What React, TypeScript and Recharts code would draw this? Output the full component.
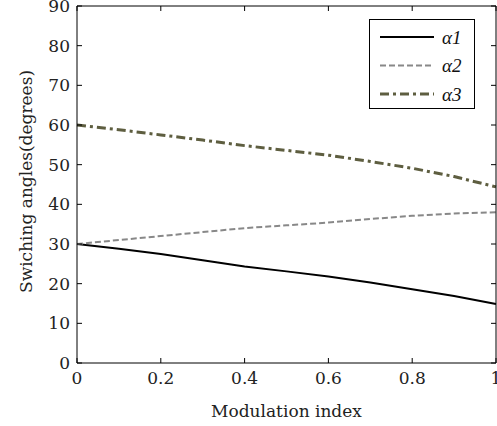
import { LineChart, Line, XAxis, YAxis, Legend } from 'recharts';

const modIndex = [0, 0.1, 0.2, 0.3, 0.4, 0.5, 0.6, 0.7, 0.8, 0.9, 1];
const alpha1 = [30, 28.8, 27.5, 25.9, 24.3, 23.1, 21.8, 20.3, 18.6, 16.9, 14.9];
const alpha2 = [30, 31.0, 32.0, 33.0, 34.0, 34.7, 35.4, 36.3, 37.1, 37.7, 38.0];
const alpha3 = [60, 58.8, 57.5, 56.2, 54.8, 53.6, 52.4, 50.8, 49.1, 47.0, 44.4];

const xTicks = [0, 0.2, 0.4, 0.6, 0.8, 1];
const yTicks = [0, 10, 20, 30, 40, 50, 60, 70, 80, 90];

const data = modIndex.map((m, i) => ({ m, a1: alpha1[i], a2: alpha2[i], a3: alpha3[i] }));

const W = 497;
const H = 426;
const M = { top: 6, right: 1, left: 0, bottom: 0 };
const Y_W = 77;
const X_H = 63;
const PLOT_TOP = M.top;
const PLOT_BOTTOM = H - M.bottom - X_H;
const PLOT_LEFT = M.left + Y_W;
const PLOT_RIGHT = W - M.right;
const TICK = 5;
const X_GAP = 8;
const Y_GAP = 7;

const FONT = '"DejaVu Serif", serif';

// label + inward tick marks on both sides of the box
function XTick(p: any) {
  const x = p.x;
  return (
    <g>
      <line x1={x} x2={x} y1={PLOT_BOTTOM} y2={PLOT_BOTTOM - TICK} stroke="#000" />
      <line x1={x} x2={x} y1={PLOT_TOP} y2={PLOT_TOP + TICK} stroke="#000" />
      <text x={x} y={p.y} dy="0.75em" textAnchor="middle" fontFamily={FONT} fontSize={17} fill="#222">
        {String(p.payload.value)}
      </text>
    </g>
  );
}

function YTick(p: any) {
  const y = p.y;
  return (
    <g>
      <line x1={PLOT_LEFT} x2={PLOT_LEFT + TICK} y1={y} y2={y} stroke="#000" />
      <line x1={PLOT_RIGHT} x2={PLOT_RIGHT - TICK} y1={y} y2={y} stroke="#000" />
      <text x={p.x} y={y} dy="0.36em" textAnchor="end" fontFamily={FONT} fontSize={17} fill="#222">
        {String(p.payload.value)}
      </text>
    </g>
  );
}

const legendItems = [
  { name: 'α1', color: '#000', dash: undefined, width: 2 },
  { name: 'α2', color: '#888', dash: '6 3', width: 2 },
  { name: 'α3', color: '#5e5e40', dash: '9 4 3 4', width: 3 },
];

function LegendBox() {
  return (
    <div style={{ width: 104, height: 88, border: '1px solid #000', background: '#fff', boxSizing: 'content-box' }}>
      <svg width={104} height={88}>
        {legendItems.map((it, i) => (
          <g key={it.name}>
            <line x1={10} x2={64} y1={17 + i * 28.5} y2={17 + i * 28.5} stroke={it.color} strokeWidth={it.width} strokeDasharray={it.dash} />
            <text x={72} y={17 + i * 28.5} dominantBaseline="central" fontFamily='"Liberation Serif", serif' fontStyle="italic" fontSize={19} fill="#111">
              {it.name}
            </text>
          </g>
        ))}
      </svg>
    </div>
  );
}

export default function App() {
  return (
    <div>
      <style>{`body{margin:0}`}</style>
      <LineChart width={W} height={H} data={data} margin={M}>
        <XAxis xAxisId="top" orientation="top" dataKey="m" type="number" domain={[0, 1]} ticks={xTicks} mirror tick={false} tickLine={false} axisLine={{ stroke: '#000' }} />
        <YAxis yAxisId="right" orientation="right" type="number" domain={[0, 90]} ticks={yTicks} mirror tick={false} tickLine={false} axisLine={{ stroke: '#000' }} />
        <XAxis
          dataKey="m"
          type="number"
          domain={[0, 1]}
          ticks={xTicks}
          tickLine={false}
          tickSize={0}
          tickMargin={X_GAP}
          height={X_H}
          axisLine={{ stroke: '#000', strokeWidth: 1 }}
          tick={XTick}
          interval={0}
          label={{
            content: (p: any) => (
              <text x={p.viewBox.x + p.viewBox.width / 2} y={411} textAnchor="middle" dominantBaseline="central" fontFamily={FONT} fontSize={17} fill="#222">
                Modulation index
              </text>
            ),
          }}
        />
        <YAxis
          type="number"
          domain={[0, 90]}
          ticks={yTicks}
          width={Y_W}
          tickLine={false}
          tickSize={0}
          tickMargin={Y_GAP}
          axisLine={{ stroke: '#000', strokeWidth: 1 }}
          tick={YTick}
          interval={0}
          label={{
            content: (p: any) => (
              <text
                x={26}
                y={p.viewBox.y + p.viewBox.height / 2 - 3}
                transform={`rotate(-90 26 ${p.viewBox.y + p.viewBox.height / 2 - 3})`}
                textAnchor="middle"
                dominantBaseline="central"
                fontFamily={FONT}
                fontSize={17}
                fill="#222"
              >
                Swiching angles(degrees)
              </text>
            ),
          }}
        />
        <Legend
          layout="vertical"
          align="center"
          verticalAlign="middle"
          wrapperStyle={{ top: 19, left: 369, width: 'auto' }}
          content={() => <LegendBox />}
        />
        <Line dataKey="a1" name="α1" stroke="#000" strokeWidth={2} dot={false} isAnimationActive={false} />
        <Line dataKey="a2" name="α2" stroke="#888" strokeWidth={2} strokeDasharray="6 3" dot={false} isAnimationActive={false} />
        <Line dataKey="a3" name="α3" stroke="#5e5e40" strokeWidth={3} strokeDasharray="9 4 3 4" dot={false} isAnimationActive={false} />
      </LineChart>
    </div>
  );
}
